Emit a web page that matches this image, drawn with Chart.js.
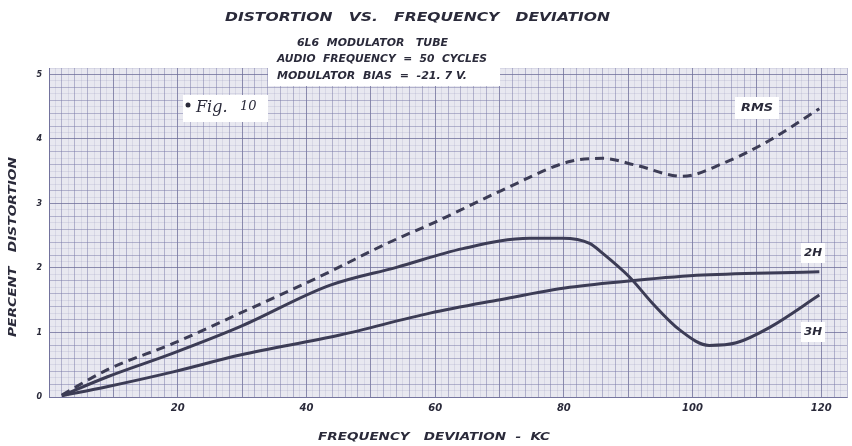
<!DOCTYPE html>
<html>
<head>
<meta charset="utf-8">
<script src="https://cdn.jsdelivr.net/npm/chart.js@4.4.1/dist/chart.umd.min.js"></script>
<style>
  html, body { margin: 0; padding: 0; background: #fff; }
  #wrap { width: 852px; height: 446px; position: relative; }
</style>
</head>
<body>
<div id="wrap"><canvas id="chart" width="852" height="446"></canvas></div>
<script>
// values (x = frequency deviation in KC, y = percent distortion)
const rmsDev = [2, 9, 19.3, 29.7, 43.2, 52.5, 60.2, 70.3, 80.9, 86, 91.3, 98.4, 104.7, 112, 119.7];
const rmsVals = [0.03, 0.42, 0.83, 1.30, 1.92, 2.38, 2.72, 3.20, 3.65, 3.70, 3.59, 3.42, 3.62, 3.98, 4.47];

const humpDev = [2, 9, 19.3, 29.7, 43.6, 54, 64.3, 74.7, 79.8, 84, 86, 90.2, 93.8, 98, 102.6, 106.8, 112, 119.7];
const humpVals = [0.02, 0.31, 0.68, 1.09, 1.73, 2.01, 2.30, 2.46, 2.46, 2.38, 2.23, 1.86, 1.45, 1.04, 0.80, 0.84, 1.08, 1.58];

const flatDev = [2, 9, 19.3, 29.7, 45.2, 59.2, 69.6, 80.9, 91.3, 101.6, 119.7];
const flatVals = [0.02, 0.16, 0.39, 0.65, 0.96, 1.30, 1.50, 1.70, 1.81, 1.89, 1.94];

const xTickLabels = [20, 40, 60, 80, 100, 120];
const yTickLabels = [0, 1, 2, 3, 4, 5];

const inkColor = '#3c3c55';
const textColor = '#2a2a3a';
const handFont = 'italic bold {s}px "DejaVu Sans", sans-serif';

function pts(xs, ys) {
    return xs.map((x, i) => ({ x: x, y: ys[i] }));
}

function font(size) {
    return handFont.replace('{s}', size);
}

// graph paper rulings: n steps from min to max
function ruling(min, max, step) {
    const out = [];
    const n = Math.round((max - min) / step);
    for (let i = 0; i <= n; i++) {
        out.push({ value: Math.round((min + i * step) * 1000) / 1000 });
    }
    return out;
}

// draw text squeezed/stretched to a given width
function fitText(ctx, text, left, y, width, size) {
    ctx.save();
    ctx.font = font(size);
    const w = ctx.measureText(text).width;
    ctx.translate(left, y);
    ctx.scale(width / w, 1);
    ctx.textAlign = 'left';
    ctx.textBaseline = 'middle';
    ctx.fillStyle = textColor;
    ctx.fillText(text, 0, 0);
    ctx.restore();
}

function whiteBox(ctx, x, y, w, h) {
    ctx.save();
    ctx.fillStyle = '#ffffff';
    ctx.fillRect(x, y, w, h);
    ctx.restore();
}

const paperPlugin = {
    id: 'paper',
    beforeDraw(chart) {
        const { ctx, chartArea: a } = chart;
        ctx.save();
        ctx.fillStyle = '#e8e8f0';
        ctx.fillRect(a.left, a.top, a.right - a.left, a.bottom - a.top);
        ctx.restore();
    },
    beforeDatasetsDraw(chart) {
        const ctx = chart.ctx;
        // white patch under the header text
        whiteBox(ctx, 268, 60, 232, 26);
        // label boxes
        whiteBox(ctx, 183, 95, 85, 27);
        whiteBox(ctx, 735, 97, 44, 22);
        whiteBox(ctx, 801, 243, 24, 20);
        whiteBox(ctx, 801, 322, 24, 20);
    },
    afterDraw(chart) {
        const ctx = chart.ctx;
        fitText(ctx, 'DISTORTION   VS.   FREQUENCY   DEVIATION', 225, 18, 385, 13);
        fitText(ctx, '6L6  MODULATOR   TUBE', 297, 43, 151, 11);
        fitText(ctx, 'AUDIO  FREQUENCY  =  50  CYCLES', 277, 59, 210, 11);
        fitText(ctx, 'MODULATOR  BIAS  =  -21. 7 V.', 277, 76, 190, 11);
        fitText(ctx, 'FREQUENCY   DEVIATION  -  KC', 318, 437, 232, 10);

        ctx.save();
        ctx.translate(13, 247);
        ctx.rotate(-Math.PI / 2);
        fitText(ctx, 'PERCENT   DISTORTION', -90, 0, 180, 10);
        ctx.restore();

        fitText(ctx, 'RMS', 741, 108, 32, 10);
        fitText(ctx, '2H', 804, 253, 18, 10);
        fitText(ctx, '3H', 804, 332, 18, 10);

        ctx.save();
        ctx.fillStyle = textColor;
        ctx.beginPath();
        ctx.arc(188, 105, 2.5, 0, Math.PI * 2);
        ctx.fill();
        ctx.font = 'italic 16px "DejaVu Serif", serif';
        ctx.textBaseline = 'middle';
        ctx.fillText('Fig.', 196, 108);
        ctx.font = 'italic 13px "DejaVu Serif", serif';
        ctx.fillText('10', 240, 107);
        ctx.restore();
    }
};

const heavyLine = 'rgba(105,105,150,0.7)';
const lightLine = 'rgba(125,125,170,0.42)';
const fineLine = 'rgba(140,140,185,0.18)';

function gridX(c) {
    const v = c.tick ? c.tick.value : 0;
    return Math.abs(v % 10) < 1e-6 ? heavyLine : lightLine;
}

function gridY(c) {
    const v = c.tick ? c.tick.value : 0;
    return Math.abs(v - Math.round(v)) < 1e-6 ? heavyLine : lightLine;
}

const tickFont = (size) => ({ family: '"DejaVu Sans", sans-serif', size: size, style: 'italic', weight: 'bold' });

const ctx = document.getElementById('chart').getContext('2d');
const chart = new Chart(ctx, {
    type: 'line',
    data: {
        datasets: [
            {
                label: 'RMS',
                data: pts(rmsDev, rmsVals),
                borderColor: inkColor,
                borderWidth: 3,
                borderDash: [9, 6],
                pointRadius: 0,
                cubicInterpolationMode: 'monotone',
                fill: false
            },
            {
                label: '3H',
                data: pts(humpDev, humpVals),
                borderColor: inkColor,
                borderWidth: 3,
                pointRadius: 0,
                cubicInterpolationMode: 'monotone',
                fill: false
            },
            {
                label: '2H',
                data: pts(flatDev, flatVals),
                borderColor: inkColor,
                borderWidth: 3,
                pointRadius: 0,
                cubicInterpolationMode: 'monotone',
                fill: false
            }
        ]
    },
    options: {
        responsive: false,
        animation: false,
        layout: {
            padding: { left: 0, right: 4, top: 68, bottom: 0 }
        },
        plugins: {
            legend: { display: false },
            tooltip: { enabled: false },
            title: { display: false }
        },
        scales: {
            xFine: {
                type: 'linear',
                position: 'bottom',
                min: 0,
                max: 124,
                display: true,
                afterFit: (s) => { s.height = 0; },
                afterBuildTicks: (s) => { s.ticks = ruling(0, 124, 1); },
                border: { display: false },
                grid: { color: fineLine, drawTicks: false },
                ticks: { display: false }
            },
            yFine: {
                type: 'linear',
                position: 'left',
                min: 0,
                max: 5.1,
                display: true,
                afterFit: (s) => { s.width = 0; },
                afterBuildTicks: (s) => { s.ticks = ruling(0, 5.1, 0.1); },
                border: { display: false },
                grid: { color: fineLine, drawTicks: false },
                ticks: { display: false }
            },
            x: {
                type: 'linear',
                min: 0,
                max: 124,
                afterFit: (s) => { s.height = 49; },
                afterBuildTicks: (s) => { s.ticks = ruling(0, 124, 2); },
                border: { color: heavyLine, width: 1 },
                grid: { color: gridX, lineWidth: 1, drawTicks: false },
                ticks: {
                    autoSkip: false,
                    maxRotation: 0,
                    padding: 5,
                    color: textColor,
                    font: tickFont(10),
                    callback: (v) => xTickLabels.includes(v) ? String(v) : ''
                }
            },
            y: {
                type: 'linear',
                min: 0,
                max: 5.1,
                afterFit: (s) => { s.width = 49; },
                afterBuildTicks: (s) => { s.ticks = ruling(0, 5.0, 0.2); },
                border: { color: heavyLine, width: 1 },
                grid: { color: gridY, lineWidth: 1, drawTicks: false },
                ticks: {
                    autoSkip: false,
                    padding: 7,
                    color: textColor,
                    font: tickFont(8),
                    callback: (v) => {
                        const r = Math.round(v);
                        return Math.abs(v - r) < 1e-6 && yTickLabels.includes(r) ? String(r) : '';
                    }
                }
            }
        }
    },
    plugins: [paperPlugin]
});
</script>
</body>
</html>
